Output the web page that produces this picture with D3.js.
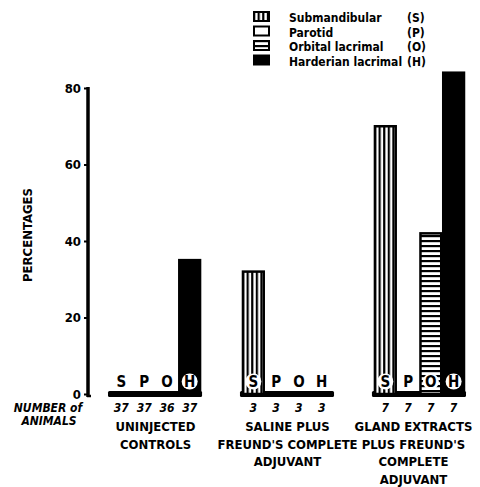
<!DOCTYPE html>
<html>
<head>
<meta charset="utf-8">
<script src="https://cdn.jsdelivr.net/npm/d3@7"></script>
<style>
  html, body { margin: 0; padding: 0; background: #fff; }
  svg { display: block; }
  text { font-family: "DejaVu Sans Condensed", "DejaVu Sans", sans-serif; font-weight: bold; fill: #000; }
</style>
</head>
<body>
<svg id="chart" width="480" height="487"></svg>
<script>
// ---- data ----
const groups = ["Uninjected controls", "Saline plus Freund's complete adjuvant", "Gland extracts plus Freund's complete adjuvant"];
const groupLabels = [
  ["UNINJECTED", "CONTROLS"],
  ["SALINE PLUS", "FREUND'S COMPLETE", "ADJUVANT"],
  ["GLAND EXTRACTS", "PLUS FREUND'S", "COMPLETE", "ADJUVANT"]
];
const glands = ["S", "P", "O", "H"];
const glandNames = ["Submandibular", "Parotid", "Orbital lacrimal", "Harderian lacrimal"];
const valuesUninjected = [0, 0, 0, 35];
const valuesSaline = [32, 0, 0, 0];
const valuesGland = [70, 0, 42, 84];
const animalsUninjected = [37, 37, 36, 37];
const animalsSaline = [3, 3, 3, 3];
const animalsGland = [7, 7, 7, 7];
const yTicks = [0, 20, 40, 60, 80];

const values = [valuesUninjected, valuesSaline, valuesGland];
const animals = [animalsUninjected, animalsSaline, animalsGland];

const svg = d3.select("#chart");
const defs = svg.append("defs");

// patterns
const pv = defs.append("pattern").attr("id", "vstripe").attr("patternUnits", "userSpaceOnUse")
  .attr("width", 4.6).attr("height", 10);
pv.append("rect").attr("width", 4.6).attr("height", 10).attr("fill", "#fff");
pv.append("rect").attr("x", 0).attr("width", 2.2).attr("height", 10).attr("fill", "#000");

const ph = defs.append("pattern").attr("id", "hstripe").attr("patternUnits", "userSpaceOnUse")
  .attr("width", 10).attr("height", 5);
ph.append("rect").attr("width", 10).attr("height", 5).attr("fill", "#fff");
ph.append("rect").attr("y", 0).attr("width", 10).attr("height", 2.2).attr("fill", "#000");

const fills = { S: "url(#vstripe)", P: "#fff", O: "url(#hstripe)", H: "#000" };

// scales
const y = d3.scaleLinear().domain([0, 80]).range([394, 88]);
const xg = d3.scaleBand().domain(groups).range([110, 465]).paddingInner(0.31);
const xs = d3.scaleBand().domain(glands).range([0, xg.bandwidth()]).padding(0);

// y axis
const axis = d3.axisLeft(y).tickValues(yTicks).tickSize(4).tickPadding(3).tickFormat(d3.format("d"));
const ag = svg.append("g").attr("transform", "translate(88,0)").call(axis);
ag.select(".domain").remove();
ag.selectAll(".tick line").attr("stroke", "#000").attr("stroke-width", 2);
ag.selectAll(".tick text").style("font-size", "13px").style("font-family", "'DejaVu Sans Condensed', sans-serif").style("font-weight", "bold");
ag.append("line").attr("x1", 0).attr("x2", 0).attr("y1", y(80) - 1).attr("y2", y(0) + 3)
  .attr("stroke", "#000").attr("stroke-width", 3.5);
ag.append("line").attr("x1", -1).attr("x2", 3).attr("y1", y(0) + 2).attr("y2", y(0) + 2)
  .attr("stroke", "#000").attr("stroke-width", 2.5);

svg.append("text").attr("transform", "translate(32,235) rotate(-90)")
  .attr("text-anchor", "middle").style("font-size", "13px").text("PERCENTAGES");

const labelShift = [0, 0, -6];

// groups
groups.forEach((g, gi) => {
  const gx = xg(g);
  const gg = svg.append("g").attr("transform", `translate(${gx},0)`);
  // baseline band
  gg.append("rect").attr("x", -2).attr("y", y(0) - 3).attr("width", xg.bandwidth() + 3).attr("height", 6)
    .attr("rx", 1.5).attr("fill", "#000");
  glands.forEach((k, i) => {
    const v = values[gi][i];
    const bx = xs(k), bw = xs.bandwidth();
    const cx = bx + bw / 2;
    if (v > 0) {
      gg.append("rect").attr("x", bx + 1).attr("y", y(v)).attr("width", bw - 2).attr("height", y(0) - y(v))
        .attr("fill", fills[k]).attr("stroke", "#000").attr("stroke-width", 2.5);
      gg.append("circle").attr("cx", cx).attr("cy", y(0) - 12.5).attr("r", 8).attr("fill", "#fff");
    }
    gg.append("text").attr("x", cx).attr("y", y(0) - 7).attr("text-anchor", "middle")
      .style("font-size", "15px").text(k);
    gg.append("text").attr("x", cx).attr("y", 412).attr("text-anchor", "middle")
      .style("font-size", "12px").style("font-style", "italic").text(animals[gi][i]);
  });
  groupLabels[gi].forEach((line, li) => {
    svg.append("text").attr("x", gx + xg.bandwidth() / 2 + labelShift[gi]).attr("y", 431 + li * 17.7)
      .attr("text-anchor", "middle").style("font-size", "13px").text(line);
  });
});

// NUMBER of ANIMALS
svg.append("text").attr("x", 48).attr("y", 412).attr("text-anchor", "middle")
  .style("font-size", "12px").style("font-style", "italic").text("NUMBER  of");
svg.append("text").attr("x", 49).attr("y", 425).attr("text-anchor", "middle")
  .style("font-size", "12px").style("font-style", "italic").text("ANIMALS");

// legend
const legend = svg.append("g");
glands.forEach((k, i) => {
  const ly = 12 + i * 14.5;
  legend.append("rect").attr("x", 254).attr("y", ly).attr("width", 15).attr("height", 9)
    .attr("fill", fills[k]).attr("stroke", "#000").attr("stroke-width", 2);
  legend.append("text").attr("x", 289).attr("y", ly + 10).style("font-size", "12px").text(glandNames[i]);
  legend.append("text").attr("x", 407).attr("y", ly + 10).style("font-size", "12px").text(`(${k})`);
});
</script>
</body>
</html>
